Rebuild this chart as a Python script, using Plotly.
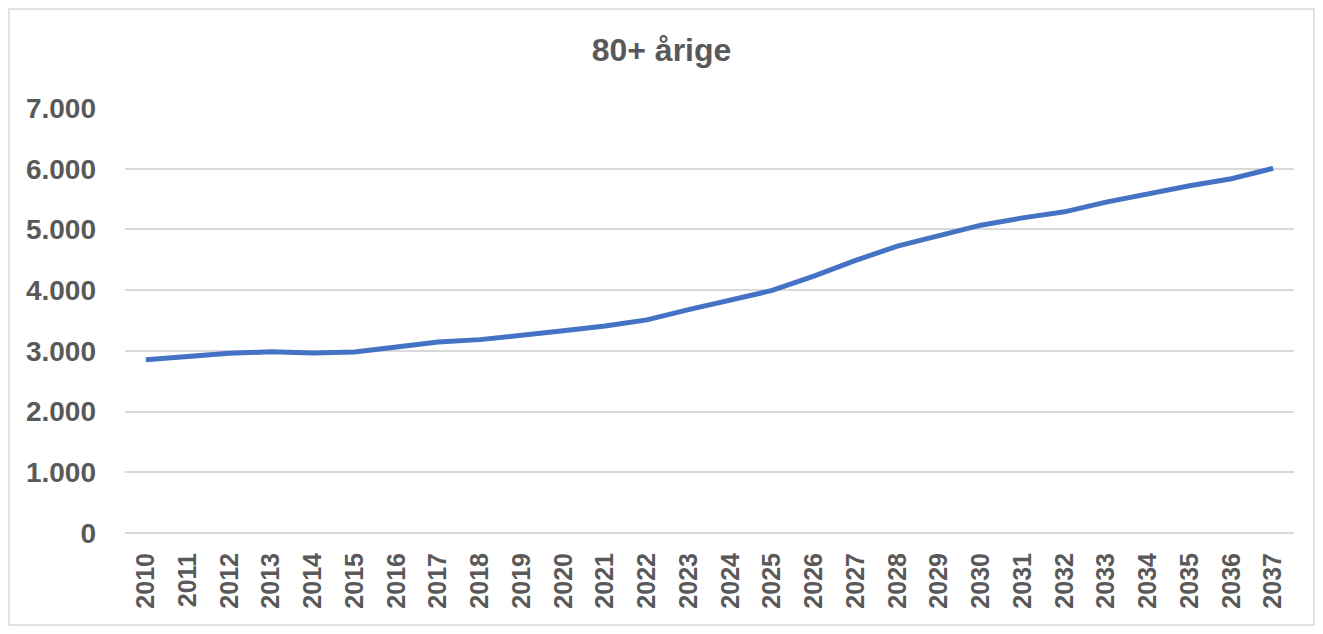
import plotly.graph_objects as go

# Data
years = [str(y) for y in range(2010, 2038)]
persons_80_plus = [
    2855, 2915, 2960, 2985, 2965, 2980, 3070, 3145, 3185, 3250,
    3330, 3410, 3510, 3680, 3830, 3995, 4230, 4490, 4725, 4905,
    5070, 5190, 5290, 5450, 5595, 5720, 5835, 6005,
]
y_ticks = [0, 1000, 2000, 3000, 4000, 5000, 6000, 7000]

TEXT = "#595959"
GRID = "#d9d9d9"
FONT = "Liberation Sans, Arial, sans-serif"

fig = go.Figure()

fig.add_trace(go.Scatter(
    x=years,
    y=persons_80_plus,
    mode="lines",
    line=dict(color="#4472C4", width=5),
    showlegend=False,
))

# thin frame round the whole chart
fig.add_shape(
    type="rect", xref="paper", yref="paper",
    x0=-0.0992, x1=1.0171, y0=-0.2165, y1=1.2329,
    line=dict(color=GRID, width=1.5),
)

fig.update_xaxes(
    type="category",
    range=[-0.5, len(years) - 0.5],
    tickangle=-90,
    tickfont=dict(family=FONT, size=25, color=TEXT, weight="bold"),
    showgrid=False,
    showline=False,
    ticks="",
    ticklabelstandoff=14,
)

fig.update_yaxes(
    range=[0, 7000],
    tickvals=y_ticks,
    tickformat=",d",
    tickfont=dict(family=FONT, size=28, color=TEXT, weight="bold"),
    gridcolor=GRID,
    gridwidth=1.5,
    zeroline=True,
    zerolinecolor=GRID,
    zerolinewidth=1.5,
    showline=False,
    ticks="",
    ticklabelstandoff=28,
)

# page body adds an 8px margin, so the figure is a little smaller than the window
fig.update_layout(
    width=1307,
    height=618,
    margin=dict(l=117, r=21, t=100, b=93),
    separators=",.",
    paper_bgcolor="white",
    plot_bgcolor="white",
    title=dict(
        text="80+ årige",
        x=0.5, xref="container", xanchor="center",
        y=0.932, yref="container", yanchor="middle",
        font=dict(family=FONT, size=32, color=TEXT, weight="bold"),
    ),
)

fig.write_html("out.html")
